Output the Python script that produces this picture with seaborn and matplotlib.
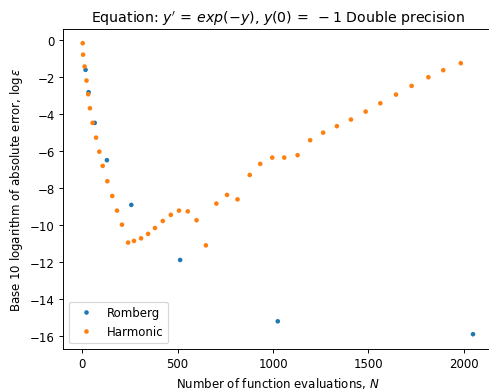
import numpy as np
import pandas as pd
import matplotlib
matplotlib.use("Agg")
import matplotlib.pyplot as plt
import seaborn as sns

# Romberg: function evaluations vs log10 error
romberg_n = [17, 33, 65, 129, 257, 513, 1025, 2049]
romberg_err = [-1.62, -2.83, -4.49, -6.51, -8.93, -11.91, -15.23, -15.93]

# Harmonic: function evaluations vs log10 error
harmonic_n = [2, 4, 12, 22, 31, 40, 54, 72, 89, 107, 131, 157, 182, 208,
              240, 271, 308, 345, 381, 422, 464, 507, 553, 599, 648, 703,
              759, 814, 878, 933, 996, 1059, 1129, 1195, 1263, 1335, 1409,
              1486, 1563, 1645, 1727, 1815, 1893, 1985]
harmonic_err = [-0.18, -0.80, -1.44, -2.20, -2.94, -3.70, -4.49, -5.29,
                -6.05, -6.82, -7.65, -8.45, -9.24, -10.00, -10.97, -10.88,
                -10.74, -10.50, -10.18, -9.80, -9.47, -9.24, -9.28, -9.76,
                -11.12, -8.86, -8.39, -8.63, -7.31, -6.71, -6.37, -6.37,
                -6.24, -5.43, -5.02, -4.67, -4.31, -3.88, -3.43, -2.96,
                -2.49, -2.02, -1.64, -1.26]

df = pd.concat([
    pd.DataFrame({"N": romberg_n, "err": romberg_err, "method": "Romberg"}),
    pd.DataFrame({"N": harmonic_n, "err": harmonic_err, "method": "Harmonic"}),
], ignore_index=True)

DPI = 85
fig = plt.figure(figsize=(489 / DPI, 392 / DPI), dpi=DPI)
ax = fig.add_axes([0.1292, 0.1077, 0.878, 0.8166])

sns.scatterplot(data=df, x="N", y="err", hue="method",
                palette={"Romberg": "#1f77b4", "Harmonic": "#ff7f0e"},
                s=15, linewidth=0, ax=ax)

ax.set_title(r"Equation: $y'\,=\,exp(-y)$, $y(0)\,=\;-1$ Double precision")
ax.set_xlabel(r"Number of function evaluations, $N$")
ax.set_ylabel(r"Base 10 logarithm of absolute error, $\log\varepsilon$")
ax.legend(loc="lower left")

fig.savefig("out.png", dpi=DPI)
